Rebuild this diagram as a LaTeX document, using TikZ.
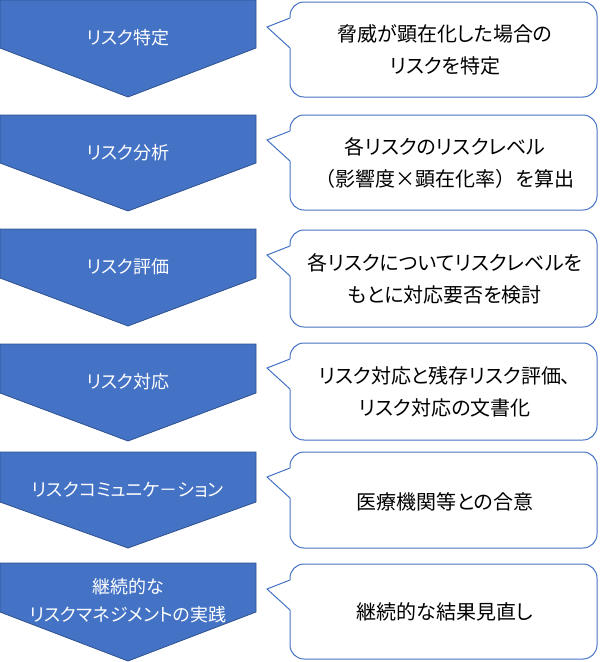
\documentclass[tikz,border=0pt]{standalone}
\usepackage{fontspec}
\newfontfamily\jp[RawFeature=+palt]{Noto Sans CJK JP}
\newfontfamily\jpfull{Noto Sans CJK JP}
\definecolor{chevfill}{HTML}{4472C4}
\definecolor{chevline}{HTML}{2F528F}
\definecolor{calline}{HTML}{4472C4}
\begin{document}
\begin{tikzpicture}[x=1pt,y=-1pt,
  chev/.style={fill=chevfill,draw=chevline,line width=0.8pt,line join=miter},
  callbox/.style={draw=calline,fill=white,line width=1pt,rounded corners=14pt},
  calltail/.style={draw=calline,line width=1pt,line join=miter},
  steptext/.style={text=white,font=\jp\fontsize{18}{28}\selectfont,align=center,inner sep=0pt},
  desctext/.style={text=black,font=\jp\fontsize{20}{32}\selectfont,align=center,inner sep=0pt}]
\useasboundingbox (0,0) rectangle (600,662);
% chevrons: top, rect bottom, tip
\foreach \t/\m/\p in {0/48/97, 115/163/211, 229/278/326, 344/393/441, 452/502/548, 563/612/661}{
  \draw[chev] (0,\t) -- (256,\t) -- (256,\m) -- (128,\p) -- (0,\m) -- cycle;
}
% callouts: top, bottom
\foreach \t/\b in {2/97, 115/210, 230/327, 343/440, 452/548, 564/659}{
  \draw[callbox] (290,\t) rectangle (597,\b);
  \fill[white] (290,\t+16) -- (267,\t+25) -- (290,\t+46) -- (291.2,\t+46) -- (291.2,\t+16) -- cycle;
  \draw[calltail] (290,\t+16) -- (267,\t+25) -- (290,\t+46);
}
% step texts
\node[steptext] (s1) at (128,38) {リスク特定};
\node[steptext] (s2) at (128,153) {リスク分析};
\node[steptext] (s3) at (128,267) {リスク評価};
\node[steptext] (s4) at (128,382) {リスク対応};
\node[steptext] (s5) at (128,490) {リスクコミュニケ－ション};
\node[steptext] (s6) at (128,601) {継続的な\\リスクマネジメントの実践};
% description texts
\node[desctext] (d1) at (445,50) {脅威が顕在化した場合の\\リスクを特定};
\node[desctext] (d2) at (445,163) {各リスクのリスクレベル\\{\jpfull （}影響度×顕在化率{\jpfull ）}を算出};
\node[desctext] (d3) at (445,279) {各リスクについてリスクレベルを\\もとに対応要否を検討};
\node[desctext] (d4) at (445,392) {リスク対応と残存リスク評価、\\リスク対応の文書化};
\node[desctext] (d5) at (445,502) {医療機関等との合意};
\node[desctext] (d6) at (445,612) {継続的な結果見直し};
\end{tikzpicture}
\end{document}
